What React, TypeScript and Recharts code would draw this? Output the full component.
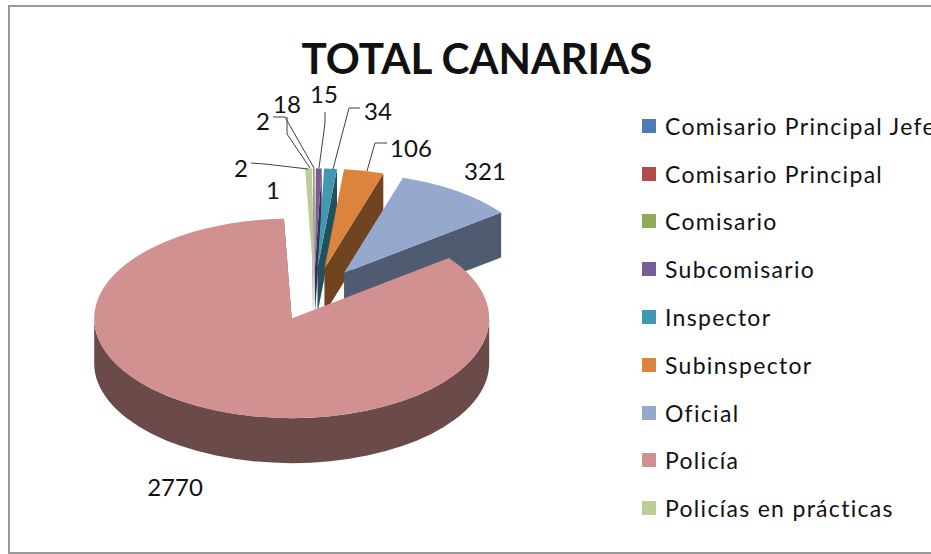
import React from "react";
import { PieChart, Pie, Legend } from "recharts";

const categories = [
  "Comisario Principal Jefe",
  "Comisario Principal",
  "Comisario",
  "Subcomisario",
  "Inspector",
  "Subinspector",
  "Oficial",
  "Policía",
  "Policías en prácticas",
];
const counts = [1, 2, 2, 15, 34, 106, 321, 2770, 18];
const topColors = ["#4A7DB4", "#B14B49", "#8FAB53", "#775C96", "#4099B0", "#DC843D", "#95A9CE", "#D09190", "#B9CF96"];
const sideColors = ["#2A4666", "#642B29", "#50602F", "#3B2D52", "#22505C", "#714421", "#4F5B70", "#6B4B49", "#5E6B4D"];

const FONT = "Lato, sans-serif";
const SQUASH = 0.505; // pie tilt
const EXPLODE = 0.265;
const DEPTH = 45;
const RX = 197.5;

const tableData = categories.map((name, i) => ({
  name,
  value: counts[i],
  fill: topColors[i],
  side: sideColors[i],
}));

// hand placed labels, as in the source chart
const labelSpots = [
  { x: 273, y: 189, line: "" },
  { x: 241, y: 167, line: "251,163 265,164 308,169" },
  { x: 263, y: 120, line: "273,117 285,117 314,168" },
  { x: 324, y: 93, line: "325,112 325,123 319,168" },
  { x: 378, y: 110, line: "360,108 349,108 333,169" },
  { x: 411, y: 147, line: "387,143 375,143 367,171" },
  { x: 485, y: 170, line: "" },
  { x: 175, y: 486, line: "" },
  { x: 287, y: 103, line: "287,117 287,134 310,168" },
];

function geometry(p: any) {
  const a = 90 - p.startAngle;
  const b = 90 - p.endAngle;
  const rx = p.outerRadius;
  const ry = rx * SQUASH;
  const mid = (((a + b) / 2) * Math.PI) / 180;
  const tx = p.cx + EXPLODE * rx * Math.sin(mid);
  const ty = p.cy - EXPLODE * ry * Math.cos(mid);
  const at = (deg: number, dy = 0) => {
    const t = (deg * Math.PI) / 180;
    return `${tx + rx * Math.sin(t)} ${ty - ry * Math.cos(t) + dy}`;
  };
  return { a, b, rx, ry, tx, ty, at };
}

function TopFace(p: any) {
  const { a, b, rx, ry, tx, ty, at } = geometry(p);
  const large = b - a > 180 ? 1 : 0;
  return <path d={`M${tx} ${ty}L${at(a)}A${rx} ${ry} 0 ${large} 1 ${at(b)}Z`} fill={p.fill} stroke="none" />;
}

function SideFace(p: any) {
  const { a, b, rx, ry, tx, ty, at } = geometry(p);
  const color = p.payload?.side ?? p.side;
  const lo = Math.max(a, 90);
  const hi = Math.min(b, 270);
  return (
    <g>
      <path d={`M${tx} ${ty}L${at(b)}L${at(b, DEPTH)}L${tx} ${ty + DEPTH}Z`} fill={color} stroke="none" />
      {lo < hi && (
        <path
          d={`M${at(lo)}A${rx} ${ry} 0 0 1 ${at(hi)}L${at(hi, DEPTH)}A${rx} ${ry} 0 0 0 ${at(lo, DEPTH)}Z`}
          fill={color}
          stroke="none"
        />
      )}
    </g>
  );
}

function renderLabel(p: any) {
  const spot = labelSpots[p.index];
  return (
    <g key={p.index}>
      {spot.line && <polyline points={spot.line} fill="none" stroke="#404040" strokeWidth={1} />}
      <text x={spot.x} y={spot.y} textAnchor="middle" dominantBaseline="central" fontFamily={FONT} fontSize={24} fill="#111">
        {counts[p.index]}
      </text>
    </g>
  );
}

function LegendList({ payload }: any) {
  // both pie layers report entries, keep one per category
  const items = categories.map((name) => (payload ?? []).find((item: any) => item.value === name)).filter(Boolean);
  return (
    <div>
      {items.map((item: any) => (
        <div key={item.value} style={{ display: "flex", alignItems: "center", height: 47.8, whiteSpace: "nowrap" }}>
          <span style={{ width: 14, height: 14, background: item.color, marginRight: 9, flex: "none" }} />
          <span style={{ fontFamily: FONT, fontSize: 23, letterSpacing: 1.3, color: "#111" }}>{item.value}</span>
        </div>
      ))}
    </div>
  );
}

export default function App() {
  return (
    <div style={{ position: "absolute", left: 0, top: 0, width: 931, height: 554, overflow: "hidden", background: "#fff" }}>
      <div
        style={{
          position: "absolute",
          left: 8,
          top: 5,
          width: 960,
          height: 545,
          borderLeft: "2px solid #999",
          borderTop: "2px solid #999",
          borderBottom: "2px solid #999",
        }}
      />
      <div
        style={{
          position: "absolute",
          left: 0,
          top: 33,
          width: 954,
          textAlign: "center",
          fontFamily: FONT,
          fontWeight: 700,
          fontSize: 42.2,
          lineHeight: "50px",
          color: "#111",
        }}
      >
        TOTAL CANARIAS
      </div>
      <div style={{ position: "absolute", left: 0, top: 0 }}>
        <PieChart width={931} height={554} margin={{ top: 0, right: 0, bottom: 0, left: 0 }}>
          <Pie
            data={tableData}
            dataKey="value"
            nameKey="name"
            cx={314}
            cy={294.5}
            outerRadius={RX}
            startAngle={90.27}
            endAngle={-269.73}
            stroke="none"
            legendType="none"
            shape={SideFace}
            isAnimationActive={false}
          />
          <Pie
            data={tableData}
            dataKey="value"
            nameKey="name"
            cx={314}
            cy={294.5}
            outerRadius={RX}
            startAngle={90.27}
            endAngle={-269.73}
            stroke="none"
            shape={TopFace}
            label={renderLabel}
            labelLine={false}
            isAnimationActive={false}
          />
          <Legend
            content={LegendList}
            itemSorter={null}
            wrapperStyle={{ position: "absolute", left: 642, top: 102, width: 289 }}
          />
        </PieChart>
      </div>
    </div>
  );
}
